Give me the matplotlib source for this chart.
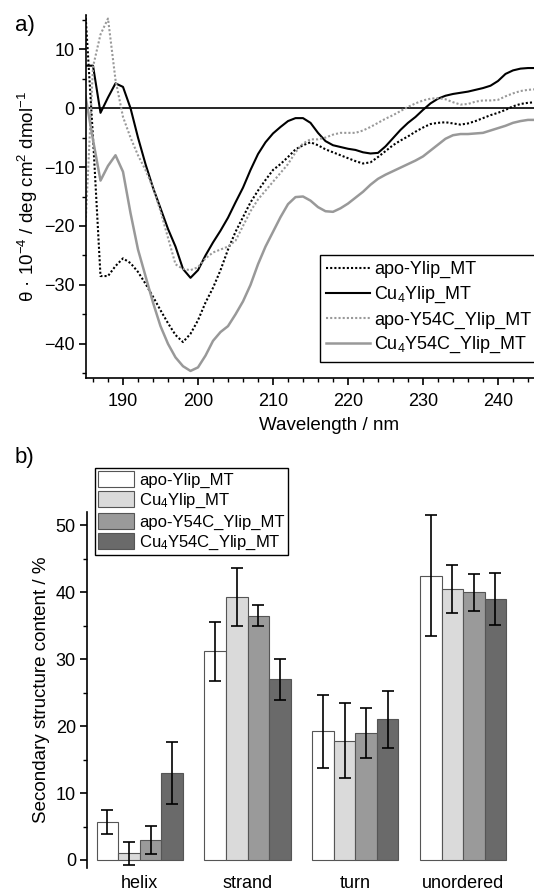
import numpy as np
import matplotlib
matplotlib.use("Agg")
import matplotlib.pyplot as plt
from matplotlib.ticker import MultipleLocator

plt.rcParams['font.family'] = ['Liberation Sans', 'DejaVu Sans']
plt.rcParams['font.size'] = 13
plt.rcParams['mathtext.fontset'] = 'custom'
plt.rcParams['mathtext.rm'] = 'Liberation Sans'
plt.rcParams['mathtext.default'] = 'regular'

# CD spectra (panel a), 1 nm steps
wavelength = np.arange(185, 246)
apo_ylip = [16, -5, -28.5, -28.5, -26.8, -25.5, -26.3, -27.8, -29.8, -32,
            -34.3, -36.5, -38.5, -39.7, -38.3, -36, -33, -30.5, -27.5, -24,
            -21, -18.5, -16, -14, -12.2, -10.5, -9.5, -8.3, -7, -6.3,
            -5.8, -6.3, -7, -7.5, -8, -8.5, -9, -9.4, -9.2, -8.3,
            -7.3, -6.3, -5.5, -4.8, -4, -3.3, -2.7, -2.5, -2.4, -2.6,
            -2.8, -2.6, -2.2, -1.7, -1.2, -0.8, -0.3, 0.3, 0.7, 0.9, 1.0]
cu4_ylip = [7.2, 7.2, -0.8, 1.8, 4.2, 3.6, 0, -5, -9.5, -13.5,
            -17, -20.5, -23.5, -27.3, -28.8, -27.5, -25, -22.8, -20.8, -18.6,
            -16, -13.5, -10.5, -7.8, -5.8, -4.3, -3.2, -2.2, -1.7, -1.7,
            -2.5, -4.2, -5.6, -6.3, -6.6, -6.9, -7.1, -7.5, -7.7, -7.6,
            -6.5, -5.1, -3.7, -2.5, -1.5, -0.3, 0.8, 1.6, 2.1, 2.4,
            2.6, 2.8, 3.1, 3.4, 3.8, 4.6, 5.8, 6.4, 6.7, 6.8, 6.8]
apo_y54c = [-20, 7, 12.5, 15.2, 4.8, -1.5, -5, -8, -10.5, -13.5,
            -17.5, -22, -26.5, -27.3, -27.5, -27, -25.5, -24.5, -24, -23.5,
            -22.5, -20, -17.5, -15.5, -14, -12.5, -11, -9.5, -7.5, -6,
            -5.3, -5.3, -5, -4.5, -4.2, -4.2, -4.2, -3.8, -3.2, -2.5,
            -1.8, -1.2, -0.5, 0.2, 0.8, 1.3, 1.6, 1.7, 1.5, 1.0,
            0.6, 0.7, 1.1, 1.3, 1.3, 1.4, 2.0, 2.5, 2.9, 3.1, 3.2]
cu4_y54c = [2, -5.4, -12.3, -9.8, -8, -10.8, -17.8, -24, -28.5, -33,
            -37, -40, -42.3, -43.8, -44.6, -44, -42, -39.5, -38, -37,
            -35, -32.8, -30, -26.5, -23.5, -21, -18.5, -16.3, -15.1, -15,
            -15.7, -16.8, -17.5, -17.6, -17, -16.2, -15.2, -14.2, -13, -12,
            -11.3, -10.7, -10.1, -9.5, -8.9, -8.2, -7.2, -6.2, -5.2, -4.6,
            -4.4, -4.4, -4.3, -4.2, -3.8, -3.4, -3.0, -2.5, -2.2, -2.0, -2.0]

# secondary structure (panel b)
categories = ['helix', 'strand', 'turn', 'unordered']
samples = ['apo-Ylip_MT', 'Cu$_4$Ylip_MT', 'apo-Y54C_Ylip_MT', 'Cu$_4$Y54C_Ylip_MT']
content = [[5.7, 31.2, 19.2, 42.5],
           [1.0, 39.3, 17.8, 40.5],
           [3.0, 36.5, 19.0, 40.0],
           [13.0, 27.0, 21.0, 39.0]]
content_err = [[1.8, 4.4, 5.4, 9.1],
               [1.7, 4.3, 5.6, 3.6],
               [2.1, 1.6, 3.7, 2.8],
               [4.6, 3.1, 4.3, 3.9]]
bar_colors = ['#ffffff', '#dadada', '#9a9a9a', '#6a6a6a']

fig = plt.figure(figsize=(5.34, 8.91), dpi=100)

# ---- panel a ----
ax1 = fig.add_axes([85.5 / 534, 1 - 378 / 891, (573 - 85.5) / 534, 363 / 891])
ax1.plot(wavelength, apo_ylip, color='black', ls=(0, (1, 1)), lw=1.5, label='apo-Ylip_MT')
ax1.plot(wavelength, cu4_ylip, color='black', lw=1.5, label='Cu$_4$Ylip_MT')
ax1.plot(wavelength, apo_y54c, color='#999999', ls=(0, (1, 1)), lw=1.5, label='apo-Y54C_Ylip_MT')
ax1.plot(wavelength, cu4_y54c, color='#999999', lw=1.8, label='Cu$_4$Y54C_Ylip_MT')
ax1.axhline(0, color='black', lw=1.2, zorder=0)
ax1.set_xlim(185, 250)
ax1.set_ylim(-45.8, 15.8)
ax1.xaxis.set_major_locator(MultipleLocator(10))
ax1.xaxis.set_minor_locator(MultipleLocator(2))
ax1.yaxis.set_major_locator(MultipleLocator(10))
ax1.yaxis.set_minor_locator(MultipleLocator(5))
ax1.set_xticks([190, 200, 210, 220, 230, 240])
ax1.spines['top'].set_visible(False)
ax1.spines['right'].set_visible(False)
for s in ['left', 'bottom']:
    ax1.spines[s].set_linewidth(1.2)
ax1.tick_params(which='major', direction='out', length=5, width=1.2, labelsize=13)
ax1.tick_params(axis='x', which='major', pad=5.5)
ax1.tick_params(axis='y', which='major', pad=3)
ax1.tick_params(which='minor', direction='out', length=3, width=1.0)
ax1.set_xlabel('Wavelength / nm', fontsize=13.5, labelpad=5)
ax1.set_ylabel('θ · 10$^{-4}$ / deg cm$^2$ dmol$^{-1}$', fontsize=13.5, labelpad=3)
leg1 = ax1.legend(loc='upper left', bbox_to_anchor=(0.481, 0.339), fontsize=13,
                  handlelength=2.4, handletextpad=0.25, labelspacing=0.35,
                  borderpad=0.35, borderaxespad=0, fancybox=False,
                  edgecolor='black', framealpha=1)
leg1.get_frame().set_linewidth(1.0)

# ---- panel b ----
ax2 = fig.add_axes([87 / 534, 1 - 868 / 891, (517 - 87) / 534, 356 / 891])
x = np.arange(len(categories))
width = 0.2
for i in range(4):
    ax2.bar(x + (i - 1.5) * width, content[i], width, yerr=content_err[i],
            color=bar_colors[i], edgecolor='#555555', linewidth=0.8,
            error_kw=dict(ecolor='black', elinewidth=1.2, capsize=4, capthick=1.2),
            label=samples[i])
ax2.set_xlim(-0.49, 3.5)
ax2.set_ylim(-1.2, 52)
ax2.set_xticks(x)
ax2.set_xticklabels(categories)
ax2.yaxis.set_major_locator(MultipleLocator(10))
ax2.yaxis.set_minor_locator(MultipleLocator(5))
for s in ['top', 'right', 'bottom']:
    ax2.spines[s].set_visible(False)
ax2.spines['left'].set_linewidth(1.2)
ax2.tick_params(axis='x', length=0, pad=5, labelsize=13)
ax2.tick_params(axis='y', which='major', direction='out', length=5, width=1.2, labelsize=13, pad=3)
ax2.tick_params(axis='y', which='minor', direction='out', length=3, width=1.0)
ax2.set_ylabel('Secondary structure content / %', fontsize=13.5, labelpad=4)
leg2 = ax2.legend(loc='upper left', bbox_to_anchor=(0.0186, 1.124), fontsize=12,
                  handlelength=2.15, handleheight=1.08, handletextpad=0.3,
                  labelspacing=0.2, borderpad=0.2, borderaxespad=0,
                  fancybox=False, edgecolor='black', framealpha=1)
leg2.get_frame().set_linewidth(1.0)

fig.text(15 / 534, 1 - 25 / 891, 'a)', fontsize=16, va='center')
fig.text(15 / 534, 1 - 457 / 891, 'b)', fontsize=16, va='center')

fig.savefig('out.png', dpi=100)
